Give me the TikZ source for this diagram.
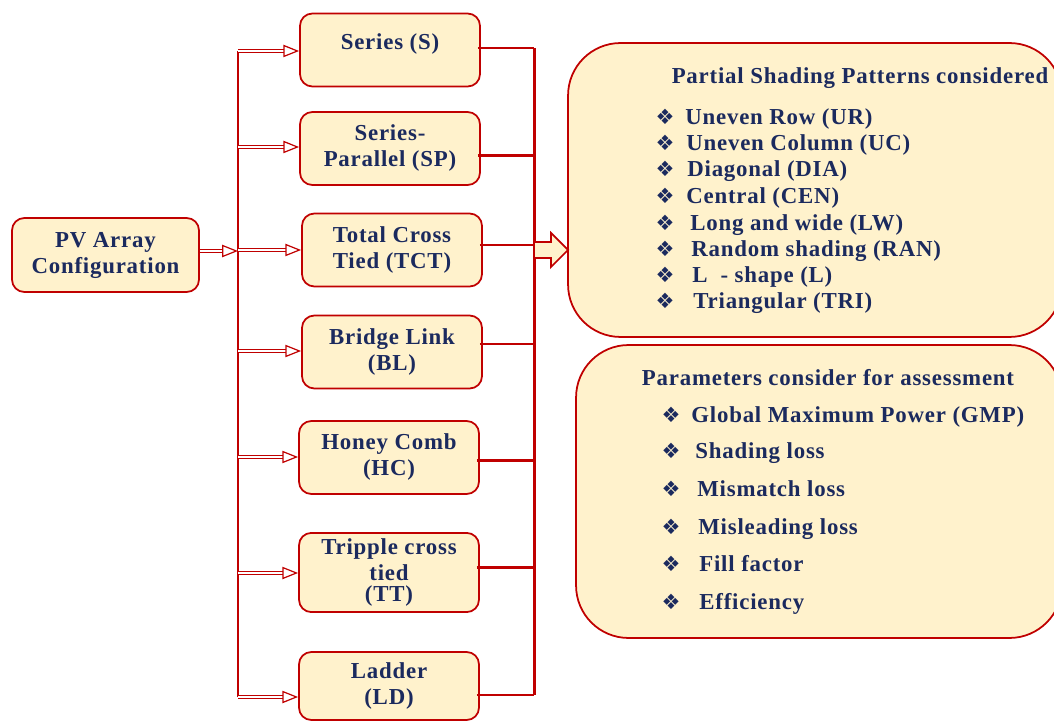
\documentclass[tikz,border=0pt]{standalone}
\usepackage{fontspec}
\setmainfont[LetterSpace=3.5]{Liberation Serif}
\newfontfamily\symfont{DejaVu Sans}
\usetikzlibrary{positioning}
\usetikzlibrary{arrows.meta}
\usetikzlibrary{calc}
\definecolor{pvred}{HTML}{C00000}
\definecolor{pvcream}{HTML}{FFF2CC}
\definecolor{pvnavy}{HTML}{1B2A5E}
\tikzset{
    cfgbox/.style = {rectangle, rounded corners=7pt, draw=pvred, line width=1pt, fill=pvcream, minimum width=3.6cm, minimum height=1.46cm, align=center, text=pvnavy, font=\bfseries\fontsize{13}{14.8}\selectfont},
    listbox/.style = {rectangle, rounded corners=1.05cm, draw=pvred, line width=1pt, fill=pvcream},
    listtext/.style = {text=pvnavy, inner sep=0pt, font=\bfseries\fontsize{13}{14.8}\selectfont},
    bullet/.style = {text=pvnavy, inner sep=0pt, font=\symfont\fontsize{12}{14}\selectfont},
    bus/.style = {draw=pvred, line width=1.7pt},
    ret/.style = {draw=pvred, line width=1.4pt},
    feed/.style = {draw=pvred, line width=0.5pt, double=white, double distance=0.8pt, -{Triangle[open, length=9pt, width=7pt, line width=0.7pt]}},
    hollow/.style = {draw=pvred, line width=1pt, fill=pvcream, line join=miter}
}

\begin{document}
\begin{tikzpicture}[x=0.02cm, y=-0.02cm]
\useasboundingbox (0,0) rectangle (1054,722);
% configurations
\node[cfgbox, minimum width=3.74cm, minimum height=1.48cm] at (105.5,255) (pv) {PV Array\\Configuration};
\node[cfgbox, text depth=10pt] at (390,50) (s) {Series (S)};
\node[cfgbox] at (390,148.5) (sp) {Series-\\Parallel (SP)};
\node[cfgbox] at (392,250) (tct) {Total Cross\\Tied (TCT)};
\node[cfgbox] at (392,352) (bl) {Bridge Link\\(BL)};
\node[cfgbox] at (389,457.5) (hc) {Honey Comb\\(HC)};
\node[cfgbox] at (389,572.5) (tt) {Tripple cross\\tied\\[-3pt](TT)};
\node[cfgbox, minimum height=1.36cm] at (389,686) (ld) {Ladder\\(LD)};
%
\node[listbox, minimum width=9.88cm, minimum height=5.88cm] at (815,190) (pat) {};
\node[listbox, minimum width=9.72cm, minimum height=5.86cm] at (819,491.5) (par) {};
%
\coordinate (lbT) at (238,51);
\coordinate (lbB) at (238,697);
\coordinate (rbT) at (534,48);
\coordinate (rbB) at (534,695);
\draw[bus] (lbT) -- (lbB);
\draw[bus] (rbT) -- (rbB);
%
\coordinate (pvout) at ($(pv.east)+(0,-4)$);
\draw[feed] (pvout) -- (lbT |- pvout);
\foreach \n/\dy in {s/1, sp/-1.5, tct/0, bl/-1, hc/-0.5, tt/0.5, ld/11} {
  \coordinate (fin) at ($(\n.west)+(0,\dy)$);
  \draw[feed] (lbT |- fin) -- (fin);
}
\foreach \n/\dy in {s/-2, sp/7, tct/-5, bl/-8, hc/3, tt/-5, ld/9} {
  \coordinate (rout) at ($(\n.east)+(-3,\dy)$);
  \draw[ret] (rout) -- (rbT |- rout);
}
%
\coordinate (ha) at (534,250);
\draw[hollow] (ha) ++(0,-8) -- ++(17,0) -- ++(0,-9) -- ++(17,17) -- ++(-17,17) -- ++(0,-9) -- ++(-17,0) -- cycle;
%
\node[listtext, anchor=base] at (860,84) (pattitle) {Partial Shading Patterns considered};
\foreach \y/\x/\t in {125/685/Uneven Row (UR), 151/686/Uneven Column (UC), 177/687/Diagonal (DIA), 204/686/Central (CEN), 231/690/Long and wide (LW), 257/691/Random shading (RAN), 283/692/L\ \ - shape (L), 309/693/Triangular (TRI)} {
  \node[bullet, anchor=base] at (665,\y) {❖};
  \node[listtext, anchor=base west] at (\x,\y) {\t};
}
%
\node[listtext, anchor=base] at (828,386) (partitle) {Parameters consider for assessment};
\foreach \y/\x/\t in {422/691/Global Maximum Power (GMP), 459/695/Shading loss, 496/697/Mismatch loss, 534/698/Misleading loss, 571/699/Fill factor, 609/699/Efficiency} {
  \node[bullet, anchor=base] at (671,\y) {❖};
  \node[listtext, anchor=base west] at (\x,\y) {\t};
}
\end{tikzpicture}
\end{document}
